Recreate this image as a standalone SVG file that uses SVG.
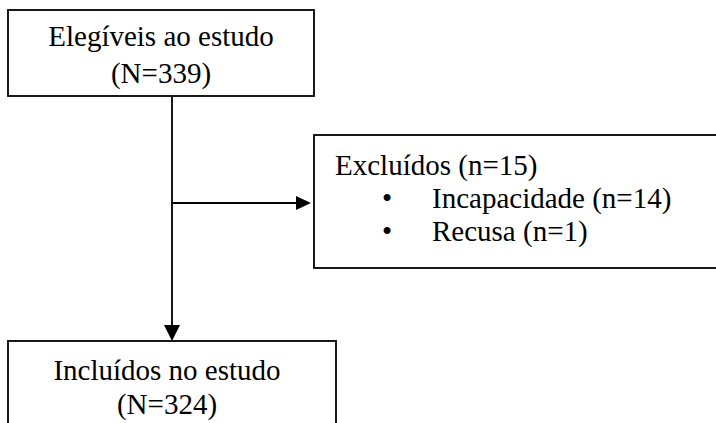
<svg xmlns="http://www.w3.org/2000/svg" width="716" height="423" viewBox="0 0 716 423">
<style>
.box{fill:#fff;stroke:#000;stroke-width:1.8}
.t{font-family:"Liberation Serif","Times New Roman",serif;font-size:29px;fill:#000}
.c{text-anchor:middle}
.ln{stroke:#000;stroke-width:1.8;fill:none}
</style>
<rect width="716" height="423" fill="#fff"/>
<g id="connectors">
<line class="ln" x1="172" y1="97" x2="172" y2="327"/>
<polygon points="172,341 164,325 180,325" fill="#000"/>
<line class="ln" x1="172" y1="203" x2="298" y2="203"/>
<polygon points="311,203 296,196 296,210" fill="#000"/>
</g>
<g id="elegiveis">
<rect class="box" x="8" y="10" width="306" height="86"/>
<text class="t c" x="161" y="46">Elegíveis ao estudo</text>
<text class="t c" x="161" y="83">(N=339)</text>
</g>
<g id="excluidos">
<rect class="box" x="314" y="135" width="420" height="133"/>
<text class="t" x="335" y="175">Excluídos (n=15)</text>
<text class="t" x="382" y="208">•</text>
<text class="t" x="432" y="208">Incapacidade (n=14)</text>
<text class="t" x="382" y="241">•</text>
<text class="t" x="432" y="241">Recusa (n=1)</text>
</g>
<g id="incluidos">
<rect class="box" x="8" y="341" width="328" height="100"/>
<text class="t c" x="167" y="380">Incluídos no estudo</text>
<text class="t c" x="167" y="414">(N=324)</text>
</g>
</svg>
